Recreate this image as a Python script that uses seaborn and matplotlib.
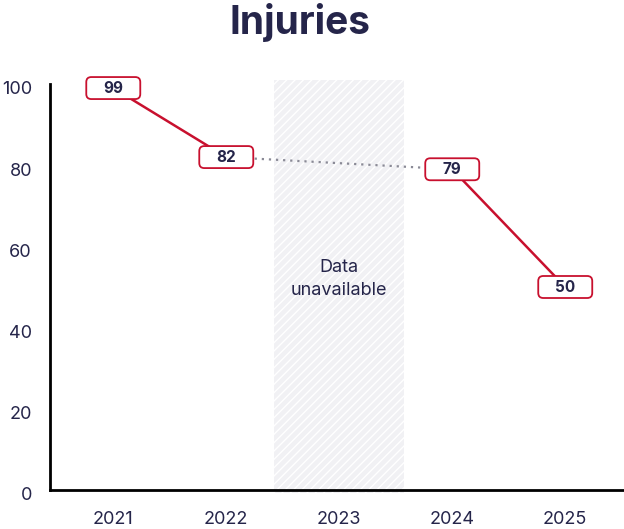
import numpy as np
import pandas as pd
import matplotlib
matplotlib.use("Agg")
import matplotlib.pyplot as plt
import matplotlib.transforms as mtransforms
from matplotlib.patches import FancyBboxPatch
import seaborn as sns

years = ["2021", "2022", "2023", "2024", "2025"]
injuries = [99, 82, np.nan, 79, 50]
missing_year = "2023"
band_label = "Data\nunavailable"
title = "Injuries"
y_ticks = [0, 20, 40, 60, 80, 100]

sns.set_theme(style="white")
plt.rcParams["font.family"] = ["Inter", "DejaVu Sans"]

NAVY = "#25254a"
RED = "#c8102e"

df = pd.DataFrame({"year": years, "value": injuries})
df["x"] = np.arange(len(years))

fig = plt.figure(figsize=(6.24, 5.29), dpi=100)
ax = fig.add_axes([50 / 624, 39 / 529, 574 / 624, 406 / 529])

# missing-data band
mi = years.index(missing_year)
ax.axvspan(mi - 0.575, mi + 0.575, ymin=-0.008, ymax=1.01, facecolor="#f1f1f4",
           edgecolor="#ffffff", hatch="////", linewidth=0, zorder=0, clip_on=False)
ax.text(mi, 52, band_label, ha="center", va="center", fontsize=13,
        color=NAVY, linespacing=1.45, zorder=1)

# segments with data
valid = df.dropna()
seg1 = valid[valid["x"] < mi]
seg2 = valid[valid["x"] > mi]
sns.lineplot(data=seg1, x="x", y="value", color=RED, linewidth=1.8, ax=ax, zorder=3)
sns.lineplot(data=seg2, x="x", y="value", color=RED, linewidth=1.8, ax=ax, zorder=3)
# dotted bridge across the gap
bridge = pd.concat([seg1.tail(1), seg2.head(1)])
ax.plot(bridge["x"], bridge["value"], color="#8a8a96", linestyle=(0, (1, 2.2)),
        linewidth=1.6, zorder=2)

ax.set_xlim(-0.56, 4.52)
ax.set_ylim(0, 100)

bw, bh = 0.54, 0.22  # inches
for _, r in valid.iterrows():
    trans = fig.dpi_scale_trans + mtransforms.ScaledTranslation(r["x"], r["value"], ax.transData)
    patch = FancyBboxPatch((-bw / 2, -bh / 2), bw, bh,
                           boxstyle="round,pad=0,rounding_size=0.05",
                           facecolor="white", edgecolor=RED, linewidth=1.3,
                           transform=trans, zorder=4, clip_on=False)
    ax.add_patch(patch)
    ax.text(r["x"], r["value"], f"{int(r['value'])}", ha="center", va="center",
            fontsize=11, fontweight="bold", color=NAVY, zorder=5, clip_on=False)

ax.set_xticks(df["x"])
ax.set_xticklabels(years)
ax.set_yticks(y_ticks)
ax.set_yticklabels([str(t) for t in y_ticks])
ax.set_xlabel("")
ax.set_ylabel("")
ax.tick_params(axis="both", length=0, labelsize=13, labelcolor=NAVY)
ax.tick_params(axis="x", pad=15)
ax.tick_params(axis="y", pad=13)
off = mtransforms.ScaledTranslation(0, -4 / 100, fig.dpi_scale_trans)
for lab in ax.get_yticklabels():
    lab.set_transform(lab.get_transform() + off)

for s in ["top", "right"]:
    ax.spines[s].set_visible(False)
for s in ["left", "bottom"]:
    ax.spines[s].set_color("black")
    ax.spines[s].set_linewidth(2)
ax.grid(False)

fig.text(300 / 624, 1 - 23 / 529, title, ha="center", va="center", fontsize=28,
         fontweight="bold", color=NAVY)

fig.savefig("out.png", dpi=100)
